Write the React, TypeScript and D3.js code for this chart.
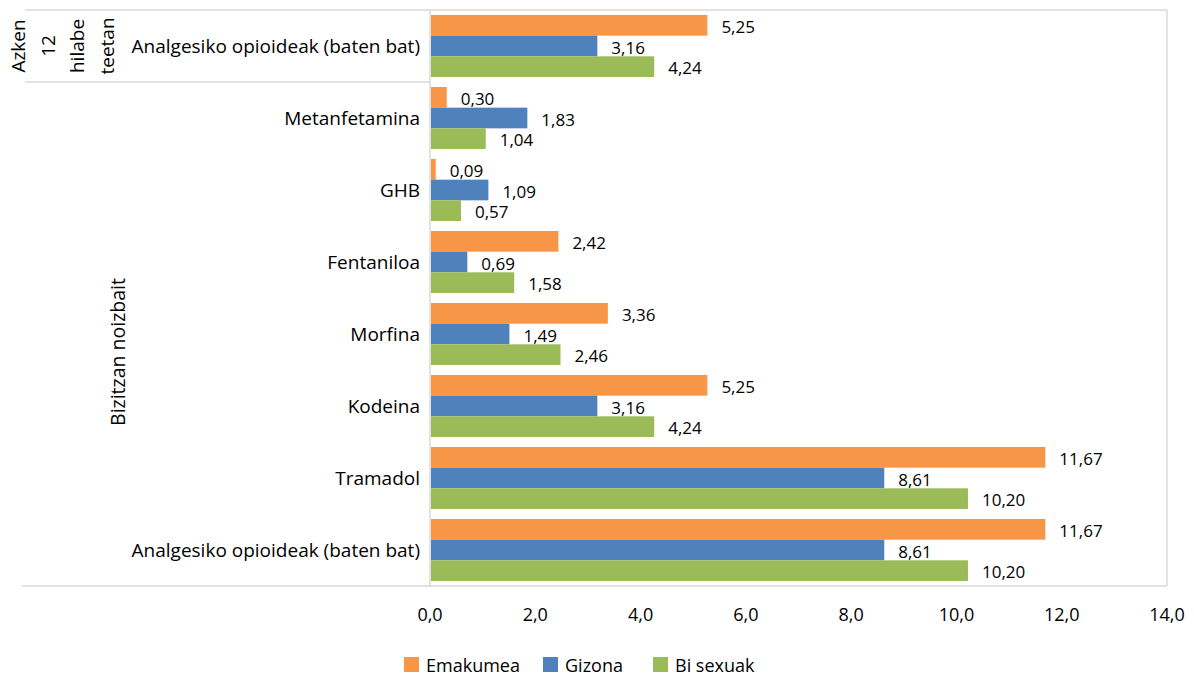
import React from 'react';
import { scaleBand, scaleLinear } from 'd3';

const categories = [
  'Analgesiko opioideak (baten bat) ',
  'Metanfetamina',
  'GHB',
  'Fentaniloa',
  'Morfina',
  'Kodeina',
  'Tramadol',
  'Analgesiko opioideak (baten bat)',
];
const emakumea = [5.25, 0.3, 0.09, 2.42, 3.36, 5.25, 11.67, 11.67];
const gizona = [3.16, 1.83, 1.09, 0.69, 1.49, 3.16, 8.61, 8.61];
const biSexuak = [4.24, 1.04, 0.57, 1.58, 2.46, 4.24, 10.2, 10.2];
const xTicks = [0, 2, 4, 6, 8, 10, 12, 14];
const groupTop = ['Azken', '12', 'hilabe', 'teetan'];
const groupBottom = 'Bizitzan noizbait';

const series = [
  { name: 'Emakumea', values: emakumea, color: '#F79646' },
  { name: 'Gizona', values: gizona, color: '#4F81BD' },
  { name: 'Bi sexuak', values: biSexuak, color: '#9BBB59' },
];

const W = 1194;
const H = 677;
const plot = { left: 430, right: 1167, top: 10, bottom: 586 };
const font = '"Open Sans", sans-serif';
const lineColor = '#d9d9d9';

const fmt = (v: number, d: number) => v.toFixed(d).replace('.', ',');

export default function App() {
  const x = scaleLinear().domain([0, 14]).range([plot.left, plot.right]);
  const y = scaleBand().domain(categories).range([plot.top, plot.bottom]);
  const inner = scaleBand()
    .domain(series.map((s) => s.name))
    .range([5, y.bandwidth() - 5]);

  const firstRowBottom = y(categories[1]) as number;

  return (
    <svg width={W} height={H} style={{ position: 'absolute', left: 0, top: 0 }}>
      <rect width={W} height={H} fill="#fff" />
      {/* frame */}
      <g stroke={lineColor} strokeWidth={1.5} fill="none">
        <line x1={25} x2={plot.right} y1={plot.top} y2={plot.top} />
        <line x1={plot.right} x2={plot.right} y1={plot.top} y2={plot.bottom} />
        <line x1={22} x2={plot.right} y1={plot.bottom} y2={plot.bottom} />
        <line x1={25} x2={plot.left} y1={firstRowBottom} y2={firstRowBottom} />
        <line x1={plot.left} x2={plot.left} y1={plot.top} y2={plot.bottom} />
      </g>

      {/* bars */}
      {categories.map((c, i) => (
        <g key={c} transform={`translate(0, ${y(c)})`}>
          {series.map((s) => (
            <rect
              key={s.name}
              x={x(0) + 1}
              y={inner(s.name)}
              width={x(s.values[i]) - x(0)}
              height={inner.bandwidth()}
              fill={s.color}
            />
          ))}
          {series.map((s) => (
            <text
              key={s.name + 'l'}
              x={x(s.values[i]) + 15}
              y={(inner(s.name) as number) + inner.bandwidth() / 2 + 1}
              dominantBaseline="central"
              fontFamily={font}
              fontSize={17}
              fill="#000"
            >
              {fmt(s.values[i], 2)}
            </text>
          ))}
          <text
            x={420}
            y={y.bandwidth() / 2}
            textAnchor="end"
            dominantBaseline="central"
            fontFamily={font}
            fontSize={19}
            fill="#000"
          >
            {c.trim()}
          </text>
        </g>
      ))}

      {/* group labels */}
      {groupTop.map((t, i) => (
        <text
          key={t}
          transform={`translate(${18 + i * 29.5}, ${(plot.top + firstRowBottom) / 2}) rotate(-90)`}
          textAnchor="middle"
          dominantBaseline="central"
          fontFamily={font}
          fontSize={19}
          fill="#000"
        >
          {t}
        </text>
      ))}
      <text
        transform={`translate(117, 352) rotate(-90)`}
        textAnchor="middle"
        dominantBaseline="central"
        fontFamily={font}
        fontSize={19.5}
        fill="#000"
      >
        {groupBottom}
      </text>

      {/* x axis labels */}
      {xTicks.map((t) => (
        <text
          key={t}
          x={x(t)}
          y={621}
          textAnchor="middle"
          fontFamily={font}
          fontSize={18}
          fill="#000"
        >
          {fmt(t, 1)}
        </text>
      ))}

      {/* legend */}
      {series.map((s, i) => {
        const lx = [404, 543, 653][i];
        return (
          <g key={s.name} transform={`translate(${lx}, 657)`}>
            <rect width={15} height={15} fill={s.color} />
            <text x={22} y={15} fontFamily={font} fontSize={18} fill="#000">
              {s.name}
            </text>
          </g>
        );
      })}
    </svg>
  );
}
